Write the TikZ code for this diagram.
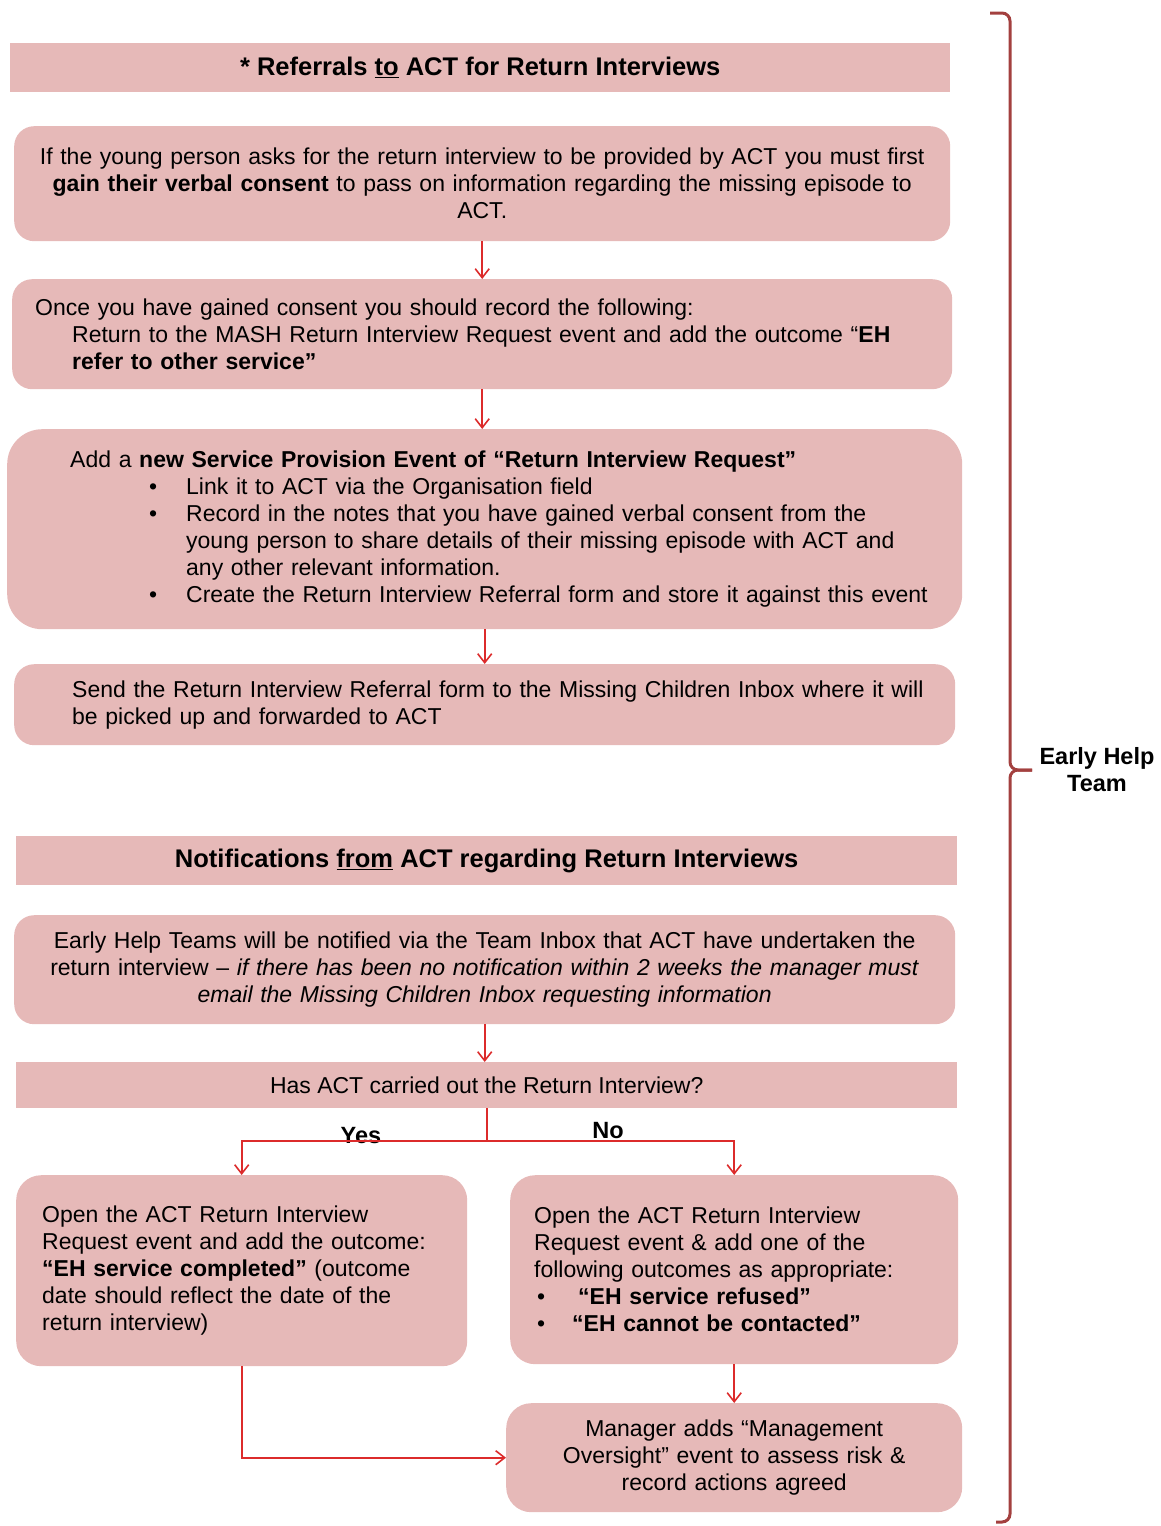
\documentclass[tikz,border=0pt]{standalone}
\usepackage{fontspec}
\setmainfont{Liberation Sans}
\usetikzlibrary{arrows.meta}

\definecolor{boxpink}{HTML}{E6B9B8}
\definecolor{flowred}{HTML}{DC2B2B}
\definecolor{bracered}{HTML}{A3403F}

\begin{document}
\begin{tikzpicture}[x=1pt,y=-1pt,
  bar/.style={fill=boxpink, draw=none, anchor=north west, inner sep=0pt,
    align=center, font=\fontsize{25.5}{30}\selectfont\bfseries},
  stepbox/.style={fill=boxpink, draw=none, rounded corners=20pt,
    anchor=north west, font=\fontsize{23}{27}\selectfont},
  flowline/.style={draw=flowred, line width=1.6pt},
  flow/.style={flowline, -{Straight Barb[length=9pt,width=14pt]}},
  brace/.style={draw=bracered, line width=3pt, rounded corners=8pt},
  bigfont/.style={font=\fontsize{23.5}{27}\selectfont\bfseries}]

% define page size
\useasboundingbox (0,0) rectangle (1160,1526);

% referrals to ACT
\node[bar, minimum width=940pt, minimum height=49pt] (referrals) at (10,43)
  {* Referrals \underline{to} ACT for Return Interviews};

\node[stepbox, minimum width=936pt, minimum height=115pt, inner xsep=10pt,
  text width=916pt, align=center] (consent) at (14,126)
  {If the young person asks for the return interview to be provided by ACT you must first\\
   \textbf{gain their verbal consent} to pass on information regarding the missing episode to\\
   ACT.};

\node[stepbox, minimum width=940pt, minimum height=110pt, inner xsep=23pt,
  text width=894pt, align=left] (record) at (12,279)
  {Once you have gained consent you should record the following:\\
   \hspace*{37pt}Return to the MASH Return Interview Request event and add the outcome “\textbf{EH}\\
   \hspace*{37pt}\textbf{refer to other service”}};

\node[stepbox, rounded corners=35pt, minimum width=955pt, minimum height=200pt,
  inner xsep=63pt, text width=829pt, align=left] (event) at (7,429)
  {Add a \textbf{new Service Provision Event of “Return Interview Request”}\\
   \hspace*{79pt}\makebox[37pt][l]{\textbullet}\mbox{Link it to ACT via the Organisation field}\\
   \hspace*{79pt}\makebox[37pt][l]{\textbullet}\mbox{Record in the notes that you have gained verbal consent from the}\\
   \hspace*{116pt}\mbox{young person to share details of their missing episode with ACT and}\\
   \hspace*{116pt}\mbox{any other relevant information.}\\
   \hspace*{79pt}\makebox[37pt][l]{\textbullet}\mbox{Create the Return Interview Referral form and store it against this event}};

\node[stepbox, minimum width=941pt, minimum height=81pt, inner xsep=58pt,
  text width=825pt, align=left] (send) at (14,664)
  {\mbox{Send the Return Interview Referral form to the Missing Children Inbox where it will}\\
   be picked up and forwarded to ACT};

% notifications from ACT
\node[bar, minimum width=941pt, minimum height=49pt] (notify) at (16,836)
  {Notifications \underline{from} ACT regarding Return Interviews};

\node[stepbox, minimum width=941pt, minimum height=109pt, inner xsep=10pt,
  text width=921pt, align=center] (inbox) at (14,915)
  {Early Help Teams will be notified via the Team Inbox that ACT have undertaken the\\
   return interview -- \textit{if there has been no notification within 2 weeks the manager must}\\
   \textit{email the Missing Children Inbox requesting information}};

\node[bar, minimum width=941pt, minimum height=46pt,
  font=\fontsize{23}{27}\selectfont] (carried) at (16,1062)
  {Has ACT carried out the Return Interview?};

\node[stepbox, rounded corners=25pt, minimum width=451pt, minimum height=191pt,
  inner xsep=26pt, text width=399pt, align=left] (completed) at (16,1175)
  {Open the ACT Return Interview\\
   Request event and add the outcome:\\
   \textbf{“EH service completed”} (outcome\\
   date should reflect the date of the\\
   return interview)};

\node[stepbox, rounded corners=25pt, minimum width=448pt, minimum height=189pt,
  inner xsep=24pt, text width=400pt, align=left] (refused) at (510,1175)
  {Open the ACT Return Interview\\
   Request event \& add one of the\\
   following outcomes as appropriate:\\
   \makebox[44pt][l]{\hspace*{3pt}\textbullet}\textbf{“EH service refused”}\\
   \makebox[38pt][l]{\hspace*{3pt}\textbullet}\textbf{“EH cannot be contacted”}};

\node[stepbox, rounded corners=25pt, minimum width=456pt, minimum height=109pt,
  inner xsep=10pt, text width=436pt, align=center] (oversight) at (506,1403)
  {Manager adds “Management\\
   Oversight” event to assess risk \&\\
   record actions agreed};

% branch labels
\node[bigfont, anchor=base] (yes) at (361,1143) {Yes};
\node[bigfont, anchor=base] (no) at (608,1138) {No};

% draw arrows
\draw[flow] (consent.south) -- (consent.south |- record.north);
\draw[flow] (record.south) -- (record.south |- event.north);
\draw[flow] (event.south) -- (event.south |- send.north);
\draw[flow] (inbox.south) -- (inbox.south |- carried.north);

\coordinate (split) at (487,1141);
\draw[flowline] (carried.south -| split) -- (split);
\draw[flow] (split) -| (completed.north);
\draw[flow] (split) -| (refused.north);
\draw[flow] (refused.south) -- (refused.south |- oversight.north);
\draw[flow] (completed.south) |- (oversight.west);

% early help team bracket
\coordinate (bracetop) at (990,13);
\coordinate (bracemid) at (1032,770);
\coordinate (bracebot) at (996,1522);
\draw[brace] (bracetop) -| (1010,770) -- (bracemid);
\draw[brace] (bracemid) -- (1010,770) |- (bracebot);
\node[bigfont, align=center] (team) at (1097,770) {Early Help\\Team};

\end{tikzpicture}
\end{document}
